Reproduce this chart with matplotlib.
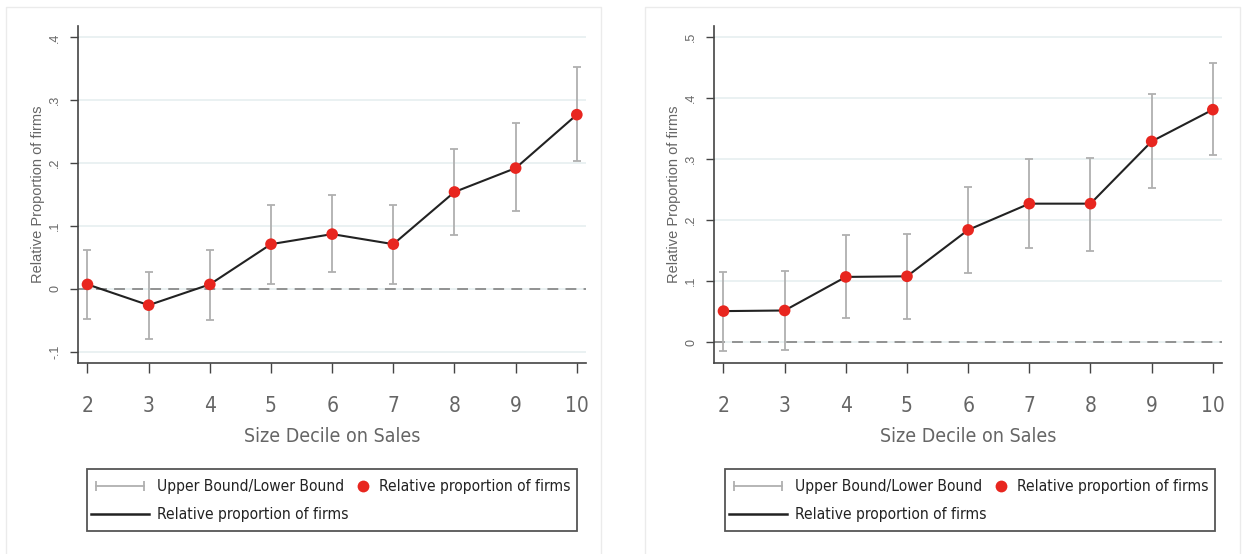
import matplotlib
matplotlib.use("Agg")
import matplotlib.pyplot as plt
from matplotlib.lines import Line2D
from matplotlib.legend_handler import HandlerLine2D, HandlerBase
from matplotlib.patches import Rectangle
from matplotlib import font_manager
from matplotlib.font_manager import FontProperties

# Size decile on sales
deciles = [2, 3, 4, 5, 6, 7, 8, 9, 10]

# Left panel
left_est = [0.007, -0.026, 0.007, 0.071, 0.087, 0.071, 0.154, 0.192, 0.277]
left_upper = [0.061, 0.027, 0.062, 0.133, 0.149, 0.134, 0.222, 0.263, 0.352]
left_lower = [-0.048, -0.080, -0.050, 0.008, 0.026, 0.008, 0.086, 0.123, 0.204]
left_yticks = [-0.1, 0, 0.1, 0.2, 0.3, 0.4]
left_yticklabels = ["-.1", "0", ".1", ".2", ".3", ".4"]

# Right panel
right_est = [0.051, 0.052, 0.107, 0.108, 0.184, 0.227, 0.227, 0.329, 0.381]
right_upper = [0.115, 0.117, 0.176, 0.178, 0.255, 0.300, 0.302, 0.406, 0.458]
right_lower = [-0.014, -0.013, 0.039, 0.038, 0.114, 0.154, 0.149, 0.252, 0.306]
right_yticks = [0, 0.1, 0.2, 0.3, 0.4, 0.5]
right_yticklabels = ["0", ".1", ".2", ".3", ".4", ".5"]

legend_labels = ["Upper Bound/Lower Bound", "Relative proportion of firms",
                 "Relative proportion of firms"]


# look for a narrow sans font (Stata uses Arial Narrow-ish text)
def find_narrow():
    for f in font_manager.fontManager.ttflist:
        st = str(f.stretch).lower()
        narrowish = ("narrow" in f.name.lower() or "condensed" in f.name.lower()
                     or st in ("condensed", "semi-condensed") or st in ("75", "87"))
        if narrowish and f.style == "normal" and str(f.weight) in ("400", "normal", "regular"):
            return f.fname
    return None


narrow_file = find_narrow()


def nfont(size):
    if narrow_file:
        return FontProperties(fname=narrow_file, size=size)
    return FontProperties(family="Liberation Sans", size=size * 0.85)


GRAY_TXT = "#666666"
ERR_COL = "#b0b0b0"
RED = "#e8261f"
LINE_COL = "#222222"

fig = plt.figure(figsize=(12.45, 5.54), dpi=100)
W, H = 1245, 554

# light panel borders
for x0, x1 in [(6, 601), (645, 1240)]:
    fig.patches.append(Rectangle((x0 / W, -0.01), (x1 - x0) / W, 1.01 - 7 / H,
                                 transform=fig.transFigure, fill=False,
                                 edgecolor="#ebebeb", linewidth=1))


class RightDot(HandlerBase):
    # single marker near the right end of the handle, close to its text
    def create_artists(self, legend, orig_handle, xdescent, ydescent, width,
                       height, fontsize, trans):
        x = -xdescent + width - 0.45 * fontsize
        y = (height - ydescent) / 2
        dot = Line2D([x], [y], linestyle="none", marker="o",
                     markersize=orig_handle.get_markersize(),
                     color=orig_handle.get_color(), markeredgewidth=0,
                     transform=trans)
        return [dot]


def panel(left, est, upper, lower, ylim, yticks, yticklabels, leg_x):
    top, bottom, width = 26, 363, 508
    ax = fig.add_axes([left / W, 1 - bottom / H, width / W, (bottom - top) / H])
    for y in yticks:
        ax.axhline(y, color="#e6eff0", linewidth=1.2, zorder=0)
    ax.axhline(0, color="#8a8a8a", linewidth=1.3, linestyle=(0, (6, 4)), zorder=1)
    yerr = [[e - lo for e, lo in zip(est, lower)], [u - e for e, u in zip(est, upper)]]
    ax.errorbar(deciles, est, yerr=yerr, fmt="none", ecolor=ERR_COL,
                elinewidth=1.3, capsize=3, capthick=1.3, zorder=2)
    ax.plot(deciles, est, color=LINE_COL, linewidth=1.5, zorder=3)
    ax.scatter(deciles, est, s=70, color=RED, edgecolors="none", zorder=4)
    ax.set_xlim(1.845, 10.15)
    ax.set_ylim(*ylim)
    ax.set_xticks(deciles)
    ax.set_xticklabels([str(d) for d in deciles], fontproperties=nfont(15),
                       color=GRAY_TXT)
    ax.set_yticks(yticks)
    ax.set_yticklabels(yticklabels, fontsize=9, color=GRAY_TXT, rotation=90,
                       va="center", family="Liberation Sans")
    ax.tick_params(axis="x", length=7, width=1, color="#444444", pad=17)
    ax.tick_params(axis="y", length=6, width=1, color="#444444", pad=6)
    for s in ["top", "right"]:
        ax.spines[s].set_visible(False)
    for s in ["left", "bottom"]:
        ax.spines[s].set_color("#444444")
        ax.spines[s].set_linewidth(1.2)
    ax.set_xlabel("Size Decile on Sales", fontproperties=nfont(14), color=GRAY_TXT,
                  labelpad=8)
    ax.set_ylabel("Relative Proportion of firms", fontsize=10.5, color=GRAY_TXT,
                  family="Liberation Sans", labelpad=3)

    # legend frame
    fig.patches.append(Rectangle((leg_x / W, 1 - 531 / H), 490 / W, 62 / H,
                                 transform=fig.transFigure, fill=False,
                                 edgecolor="#555555", linewidth=1.3))
    h_err = Line2D([], [], color=ERR_COL, linewidth=1.3, marker="|",
                   markersize=7, markeredgewidth=1.3)
    h_line = Line2D([], [], color=LINE_COL, linewidth=1.8)
    h_pt = Line2D([], [], linestyle="none", marker="o", markersize=8.5,
                  color=RED, markeredgewidth=0)
    fig.legend([h_err, h_line, h_pt], legend_labels,
               ncol=2, loc="upper left",
               bbox_to_anchor=((leg_x + 4) / W, 1 - 479 / H),
               handler_map={h_err: HandlerLine2D(numpoints=2), h_pt: RightDot()},
               prop=nfont(11.2), frameon=False,
               borderpad=0, borderaxespad=0, handlelength=3.7, handletextpad=0.55,
               columnspacing=-2.3, labelspacing=0.85, labelcolor="#222222")
    return ax


panel(78, left_est, left_upper, left_lower, (-0.118, 0.418),
      left_yticks, left_yticklabels, 87)
panel(714, right_est, right_upper, right_lower, (-0.034, 0.518),
      right_yticks, right_yticklabels, 725)

fig.savefig("out.png", dpi=100, facecolor="white")
